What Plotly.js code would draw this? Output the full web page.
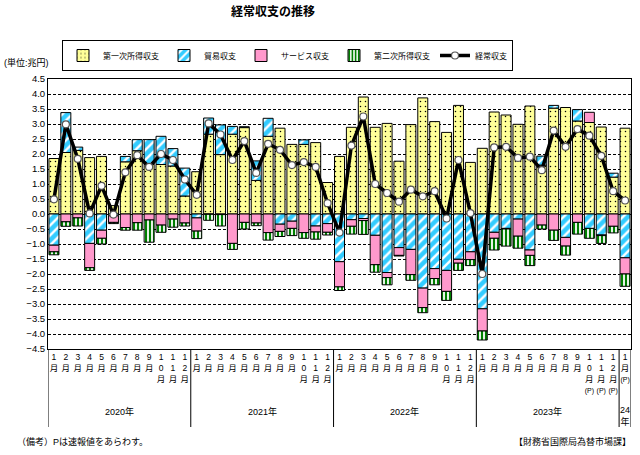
<!DOCTYPE html>
<html>
<head>
<meta charset="utf-8">
<script src="https://cdn.plot.ly/plotly-3.0.1.min.js"></script>
<style>html,body{margin:0;padding:0;background:#fff;}#chart{width:640px;height:455px;}</style>
</head>
<body>
<div id="chart"></div>
<script>
// Month numbers Jan 2020 .. Jan 2024
const monthNums = [1,2,3,4,5,6,7,8,9,10,11,12,
                   1,2,3,4,5,6,7,8,9,10,11,12,
                   1,2,3,4,5,6,7,8,9,10,11,12,
                   1,2,3,4,5,6,7,8,9,10,11,12,
                   1];
const prelim = [0,0,0,0,0,0,0,0,0,0,0,0,
                0,0,0,0,0,0,0,0,0,0,0,0,
                0,0,0,0,0,0,0,0,0,0,0,0,
                0,0,0,0,0,0,0,0,0,1,1,1,
                1];
const yearLabels = ['2020年','2021年','2022年','2023年','24<br>年'];
const yearCenters = [5.5, 17.5, 29.5, 41.5, 48];
const yearBreaks = [-0.5, 11.5, 23.5, 35.5, 47.5, 48.5];

// 第一次所得収支 (primary income)
const primary = [1.85,2.05,2.12,1.88,1.92,0.28,1.74,2.11,1.65,1.65,1.60,0.60,
                 1.41,2.66,1.98,2.66,2.88,1.12,2.59,2.86,2.32,2.32,2.38,1.05,
                 1.92,2.89,3.90,2.89,3.02,1.76,2.98,3.87,3.08,2.72,3.62,1.72,
                 2.19,3.40,3.30,2.99,3.60,1.63,3.53,3.55,3.10,3.05,2.90,1.23,
                 2.86];
// 貿易収支 (trade)
const trade = [-1.04,1.33,0.11,-0.98,-0.54,-0.06,0.18,0.37,0.83,0.94,0.58,0.93,
               -0.13,0.54,0.99,0.26,0.03,0.65,0.60,-0.34,-0.24,0.15,-0.40,-0.32,
               -1.59,-0.19,-0.15,-0.71,-1.95,-1.12,-1.18,-2.47,-1.82,-1.88,-1.51,-1.26,
               -3.16,-0.61,-0.48,-0.17,-1.20,0.30,0.09,-0.78,0.38,-0.48,-0.70,0.13,
               -1.46];
// サービス収支 (services)
const services = [-0.22,-0.26,-0.13,-0.81,-0.27,-0.22,-0.45,-0.29,-0.20,-0.37,-0.17,-0.30,
                  -0.44,-0.01,-0.02,-0.98,-0.28,-0.30,-0.62,-0.24,-0.24,-0.62,-0.20,-0.29,
                  -0.84,-0.22,-0.07,-0.98,-0.17,-0.26,-0.84,-0.65,-0.33,-0.70,-0.13,-0.26,
                  -0.74,-0.20,-0.02,-0.57,-0.18,-0.37,-0.54,-0.29,-0.28,0.34,-0.02,-0.41,
                  -0.54];
// 第二次所得収支 (secondary income)
const secondary = [-0.10,-0.15,-0.27,-0.09,-0.19,-0.04,-0.09,-0.25,-0.74,-0.24,-0.27,-0.10,
                   -0.25,-0.20,-0.38,-0.20,-0.22,-0.09,-0.25,-0.17,-0.24,-0.19,-0.24,-0.09,
                   -0.12,-0.26,-0.46,-0.25,-0.24,-0.02,-0.19,-0.17,-0.21,-0.30,-0.24,-0.20,
                   -0.30,-0.39,-0.57,-0.40,-0.34,-0.13,-0.34,-0.30,-0.39,-0.33,-0.26,-0.22,
                   -0.41];
// 経常収支 (current account)
const current = [0.49,2.99,1.84,0.02,0.94,-0.02,1.39,1.96,1.57,2.00,1.80,1.15,
                 0.64,3.02,2.65,1.80,2.43,1.37,2.34,2.14,1.63,1.73,1.57,0.36,
                 -0.62,2.28,3.25,1.00,0.70,0.41,0.81,0.59,0.76,-0.15,1.80,0.03,
                 -2.00,2.22,2.24,1.87,1.91,1.46,2.78,2.24,2.83,2.61,1.94,0.76,
                 0.45];

const x = monthNums.map((m, i) => i);
const ticktext = monthNums.map((m, i) =>
  String(m).split('').join('<br>') + '<br>月' +
  (prelim[i] ? '<br><span style="font-size:7px">(P)</span>' : ''));

const outline = {color: '#000', width: 1};
const traces = [
  {type: 'bar', name: '第一次所得収支', x: x, y: primary,
   marker: {color: '#FFFF99', line: outline,
            pattern: {shape: '.', fgcolor: '#000', bgcolor: '#FFFF99', size: 5, solidity: 0.07, fillmode: 'replace'}}},
  {type: 'bar', name: '貿易収支', x: x, y: trade,
   marker: {color: '#33CCFF', line: outline,
            pattern: {shape: '/', fgcolor: '#FFFFFF', bgcolor: '#33CCFF', size: 7, solidity: 0.35, fillmode: 'replace'}}},
  {type: 'bar', name: 'サービス収支', x: x, y: services,
   marker: {color: '#FF99CC', line: outline}},
  {type: 'bar', name: '第二次所得収支', x: x, y: secondary,
   marker: {color: '#008000', line: outline,
            pattern: {shape: '|', fgcolor: '#008000', bgcolor: '#FFFFFF', size: 4, solidity: 0.55, fillmode: 'replace'}}},
  {type: 'scatter', mode: 'lines+markers', name: '経常収支', x: x, y: current,
   line: {color: '#000', width: 3.5},
   marker: {symbol: 'circle', size: 7, color: '#FFFFFF', line: {color: '#555', width: 1.2}}}
];

const L = 48, R = 631, T = 79, B = 349;
const W = R - L, H = B - T;
const px = v => (v - L) / W;
const py = v => (B - v) / H;

const shapes = yearBreaks.map(b => ({
  type: 'line', xref: 'x', yref: 'paper', x0: b, x1: b, y0: 0, y1: py(427),
  line: {color: '#000', width: 1}
}));

const annotations = yearLabels.map((t, i) => ({
  xref: 'x', yref: 'paper', x: yearCenters[i], y: py(i === 4 ? 416 : 411),
  text: t, showarrow: false, xanchor: 'center', yanchor: 'middle',
  font: {size: 9, color: '#000'}
}));
annotations.push(
  {xref: 'paper', yref: 'paper', x: px(2), y: py(63), text: '(単位:兆円)', showarrow: false,
   xanchor: 'left', yanchor: 'middle', font: {size: 9, color: '#000'}},
  {xref: 'paper', yref: 'paper', x: px(15), y: py(441), text: '（備考）Pは速報値をあらわす。', showarrow: false,
   xanchor: 'left', yanchor: 'middle', font: {size: 9, color: '#000'}},
  {xref: 'paper', yref: 'paper', x: px(633), y: py(441), text: '【財務省国際局為替市場課】', showarrow: false,
   xanchor: 'right', yanchor: 'middle', font: {size: 9, color: '#000'}}
);

const layout = {
  width: 640, height: 455,
  margin: {l: L, r: 640 - R, t: T, b: 455 - B, pad: 0},
  paper_bgcolor: '#fff', plot_bgcolor: '#fff',
  font: {family: '"Liberation Sans", "Noto Sans CJK JP", sans-serif', color: '#000', size: 9},
  title: {text: '<b>経常収支の推移</b>', x: 273 / 640, xanchor: 'center', y: 1 - 12 / 455, yanchor: 'middle',
          font: {size: 12, color: '#000'}},
  barmode: 'relative', bargap: 0.16,
  showlegend: true,
  legend: {orientation: 'h', x: px(62), y: py(40), xanchor: 'left', yanchor: 'top',
           bordercolor: '#000', borderwidth: 1, bgcolor: '#fff',
           font: {size: 8, color: '#000'}, itemwidth: 30, traceorder: 'normal', tracegroupgap: 0},
  xaxis: {range: [-0.5, 48.5], tickmode: 'array', tickvals: x, ticktext: ticktext,
          tickangle: 0, ticks: '', showgrid: false, zeroline: false,
          showline: true, linecolor: '#000', linewidth: 1, mirror: true,
          tickfont: {size: 8.5, color: '#000'}, fixedrange: true},
  yaxis: {range: [-4.5, 4.5], dtick: 0.5, tick0: 0, tickformat: '.1f',
          showgrid: true, gridcolor: '#000', gridwidth: 1, griddash: '3px,2px',
          zeroline: true, zerolinecolor: '#000', zerolinewidth: 1,
          showline: true, linecolor: '#000', linewidth: 1, mirror: true,
          ticks: '', tickfont: {size: 9.5, color: '#000'}, fixedrange: true},
  shapes: shapes,
  annotations: annotations
};

Plotly.newPlot('chart', traces, layout, {displayModeBar: false, staticPlot: true});
</script>
</body>
</html>
